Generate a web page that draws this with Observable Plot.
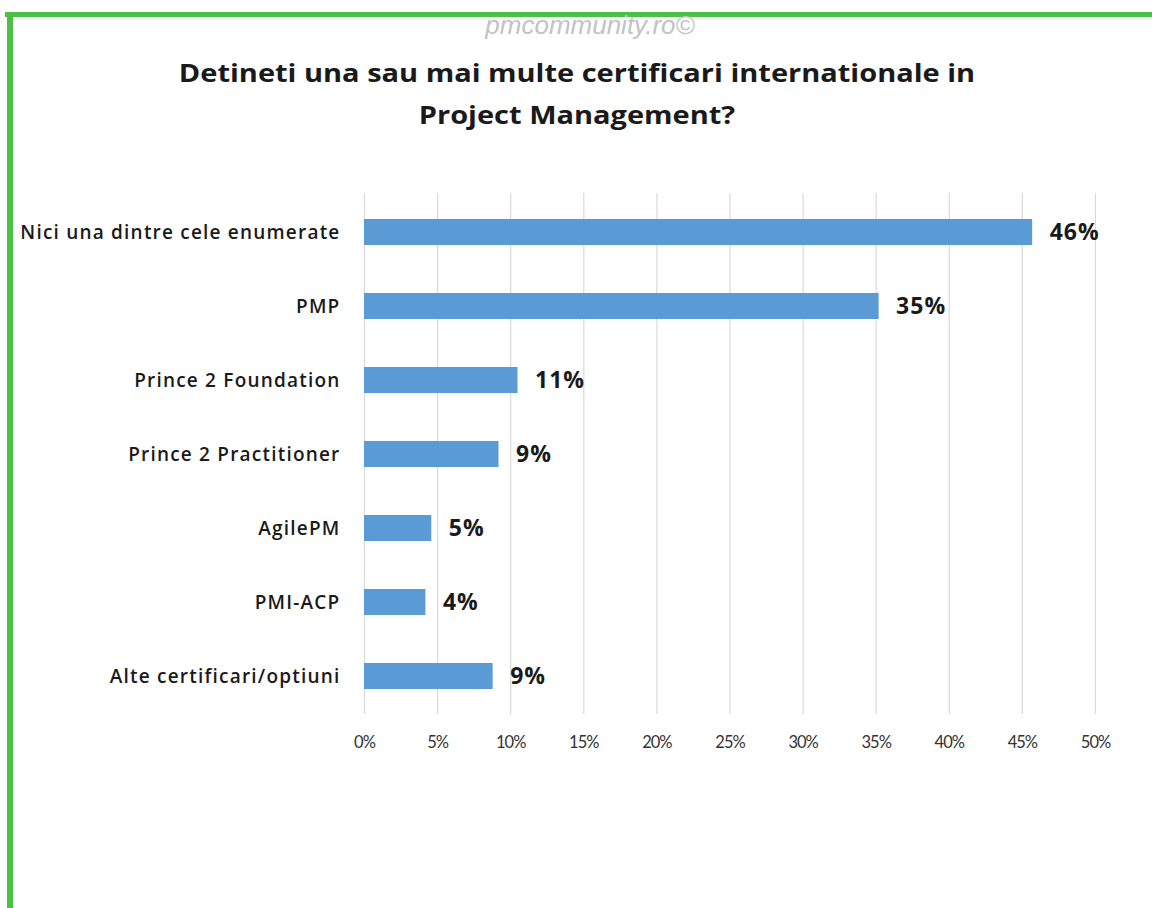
<!DOCTYPE html>
<html><head><meta charset="utf-8">
<script src="https://cdn.jsdelivr.net/npm/d3@7"></script>
<script src="https://cdn.jsdelivr.net/npm/@observablehq/plot@0.6"></script>
<style>
body{margin:0;background:#fff;}
#wrap{position:relative;width:1152px;height:908px;overflow:hidden;background:#fff;}
#btop{position:absolute;left:5px;top:12px;width:1147px;height:5px;background:#4cbf45;}
#bleft{position:absolute;left:7px;top:12px;width:6px;height:896px;background:#4cbf45;}
#wm{position:absolute;left:0;width:1180px;top:10px;text-align:center;font:italic 26px "Liberation Sans",sans-serif;color:#c2c2c8;}
#title{position:absolute;left:0;width:1154px;top:51px;text-align:center;font:700 25px/42px "Open Sans",sans-serif;color:#1a1a1a;transform:scaleX(1.16);transform-origin:577px 0;}
#chart{position:absolute;left:0;top:0;}
#chart svg g[aria-label="y-axis tick label"] text{letter-spacing:1.2px;}
#chart svg g[aria-label="x-axis tick label"] text{letter-spacing:-1px;}
#chart svg g[aria-label="text"] text{letter-spacing:1px;}
</style></head>
<body><div id="wrap"><div id="btop"></div><div id="bleft"></div>
<div id="wm">pmcommunity.ro©</div>
<div id="title">Detineti una sau mai multe certificari internationale in<br>Project Management?</div>
<div id="chart"></div></div>
<script>
const categories = ["Nici una dintre cele enumerate","PMP","Prince 2 Foundation","Prince 2 Practitioner","AgilePM","PMI-ACP","Alte certificari/optiuni"];
const values = [0.457,0.352,0.105,0.092,0.046,0.042,0.088];
const valueLabels = ["46%","35%","11%","9%","5%","4%","9%"];
const xTicks = [0,0.05,0.1,0.15,0.2,0.25,0.3,0.35,0.4,0.45,0.5];
const data = categories.map((c,i)=>({cat:c,v:values[i],lab:valueLabels[i]}));
const plot = Plot.plot({
  width:1152,height:908,
  marginLeft:364,marginRight:57,marginTop:193,marginBottom:194,
  style:{background:"transparent",fontFamily:"Lato, sans-serif"},
  x:{domain:[0,0.5],ticks:xTicks,tickFormat:d=>Math.round(d*100)+"%",label:null},
  y:{domain:categories,paddingInner:0.65,paddingOuter:0.325,label:null},
  marks:[
    Plot.ruleX(xTicks,{stroke:"#d9d9d9",strokeWidth:1.2}),
    Plot.barX(data,{x:"v",y:"cat",fill:"#5b9bd5"}),
    Plot.text(data,{x:"v",y:"cat",text:"lab",textAnchor:"start",dx:17,fontSize:23,fontWeight:"bold",fill:"#1a1a1a",fontFamily:"Open Sans, sans-serif"}),
    Plot.axisX({ticks:xTicks,tickFormat:d=>Math.round(d*100)+"%",tickSize:0,tickPadding:22,fontSize:16.5,fill:"#333",fontFamily:"Lato, sans-serif"}),
    Plot.axisY({tickSize:0,tickPadding:24,fontSize:19,fontWeight:600,fill:"#1a1a1a",fontFamily:"Open Sans, sans-serif"})
  ]
});
document.getElementById("chart").appendChild(plot);
</script></body></html>
